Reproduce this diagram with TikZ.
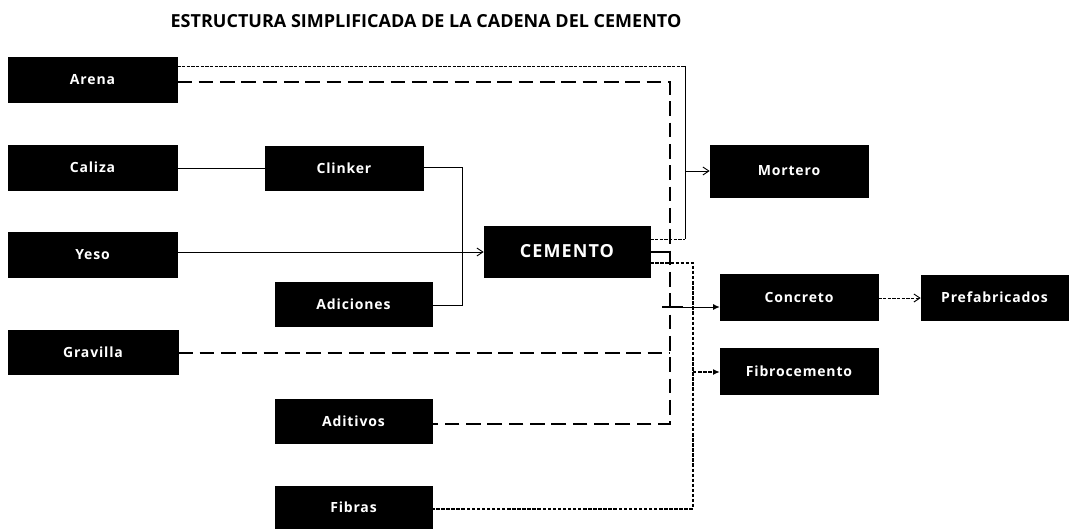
\documentclass[tikz,border=0pt]{standalone}
\usepackage{fontspec}
\setmainfont{Open Sans}
\newfontfamily\boxfont[LetterSpace=6]{Open Sans}
\usetikzlibrary{arrows.meta}
\begin{document}
\begin{tikzpicture}[x=0.75pt,y=-0.75pt,
  box/.style={draw=black,fill=black,text=white,font=\boxfont\bfseries\fontsize{10.5}{12}\selectfont,inner sep=0pt},
  thinline/.style={draw=black,line width=0.7pt},
  dotline/.style={draw=black,line width=0.7pt,dash pattern=on 2.5pt off 1pt},
  thickdash/.style={draw=black,line width=1.9pt,dash pattern=on 11pt off 5pt},
  finedash/.style={draw=black,line width=0.9pt,dash pattern=on 2.6pt off 1.2pt},
  open/.style={-{Straight Barb[length=4.5pt,width=6pt]}},
  filled/.style={-{Latex[length=5pt,width=4.5pt]}}]
\useasboundingbox (0,0) rectangle (1070,528);
\node[font=\bfseries\fontsize{13.5}{15}\selectfont] (title) at (426,21) {ESTRUCTURA SIMPLIFICADA DE LA CADENA DEL CEMENTO};
% sources
\node[box,minimum width=126.75pt,minimum height=33.75pt] (Arena) at (92.5,79.5) {Arena};
\node[box,minimum width=126.75pt,minimum height=33.75pt] (Caliza) at (92.5,167.5) {Caliza};
\node[box,minimum width=126.75pt,minimum height=33.75pt] (Yeso) at (92.5,254.5) {Yeso};
\node[box,minimum width=127.5pt,minimum height=33pt] (Gravilla) at (93,352) {Gravilla};
\node[box,minimum width=118.5pt,minimum height=33pt] (Clinker) at (344,168) {Clinker};
\node[box,minimum width=117.75pt,minimum height=33pt] (Adiciones) at (353.5,304) {Adiciones};
\node[box,minimum width=117.75pt,minimum height=33pt] (Aditivos) at (353.5,421) {Aditivos};
\node[box,minimum width=117.75pt,minimum height=31.5pt] (Fibras) at (353.5,507) {Fibras};
\node[box,minimum width=124.5pt,minimum height=38.25pt,font=\boxfont\bfseries\fontsize{13.5}{15}\selectfont] (CEMENTO) at (567,251.5) {CEMENTO};
\node[box,minimum width=118.5pt,minimum height=39pt] (Mortero) at (789,171) {Mortero};
\node[box,minimum width=118.5pt,minimum height=34.5pt] (Concreto) at (799,297.5) {Concreto};
\node[box,minimum width=118.5pt,minimum height=34.5pt] (Fibrocemento) at (799,371.5) {Fibrocemento};
\node[box,minimum width=110.25pt,minimum height=33.75pt] (Prefabricados) at (994.5,297.5) {Prefabricados};
% coordinates
\coordinate (mtop) at (685,66);
\coordinate (mbot) at (685,239);
\coordinate (mmid) at (685,171);
\coordinate (ctop) at (670,82);
\coordinate (cbot) at (670,424);
\coordinate (cgra) at (670,353);
\coordinate (ccem) at (670,252);
\coordinate (cmid) at (670,307);
\coordinate (ftop) at (693,263);
\coordinate (fbot) at (693,509);
\coordinate (fmid) at (693,372);
\coordinate (kt) at (462,167);
\coordinate (kb) at (462,305);
% Mortero feed
\draw[dotline] (Arena.east |- mtop) -- (mtop);
\draw[thinline] (mtop) -- (mbot);
\draw[dotline] (CEMENTO.east |- mbot) -- (mbot);
\draw[thinline,open] (mmid) -- (Mortero.west |- mmid);
% Concreto feed
\draw[thickdash] (Arena.east |- ctop) -- (ctop) -- (cbot) -- (Aditivos.east |- cbot);
\draw[thickdash] (Gravilla.east |- cgra) -- (cgra);
\draw[black,line width=1.9pt] (CEMENTO.east |- ccem) -- (ccem);
\draw[black,line width=1.9pt] (662,307) -- (683,307);
\draw[thinline,filled] (cmid) -- (Concreto.west |- cmid);
% Fibrocemento feed
\draw[finedash] (CEMENTO.east |- ftop) -- (ftop) -- (fbot) -- (Fibras.east |- fbot);
\draw[finedash,filled] (fmid) -- (Fibrocemento.west |- fmid);
% clinker / cemento
\draw[thinline] (Caliza.east |- 0,168) -- (Clinker.west |- 0,168);
\draw[thinline] (Clinker.east |- kt) -- (kt) -- (kb) -- (Adiciones.east |- kb);
\draw[thinline,open] (Yeso.east |- 0,252) -- (CEMENTO.west |- 0,252);
\draw[dotline,open] (Concreto.east |- 0,298) -- (Prefabricados.west |- 0,298);
\end{tikzpicture}
\end{document}
